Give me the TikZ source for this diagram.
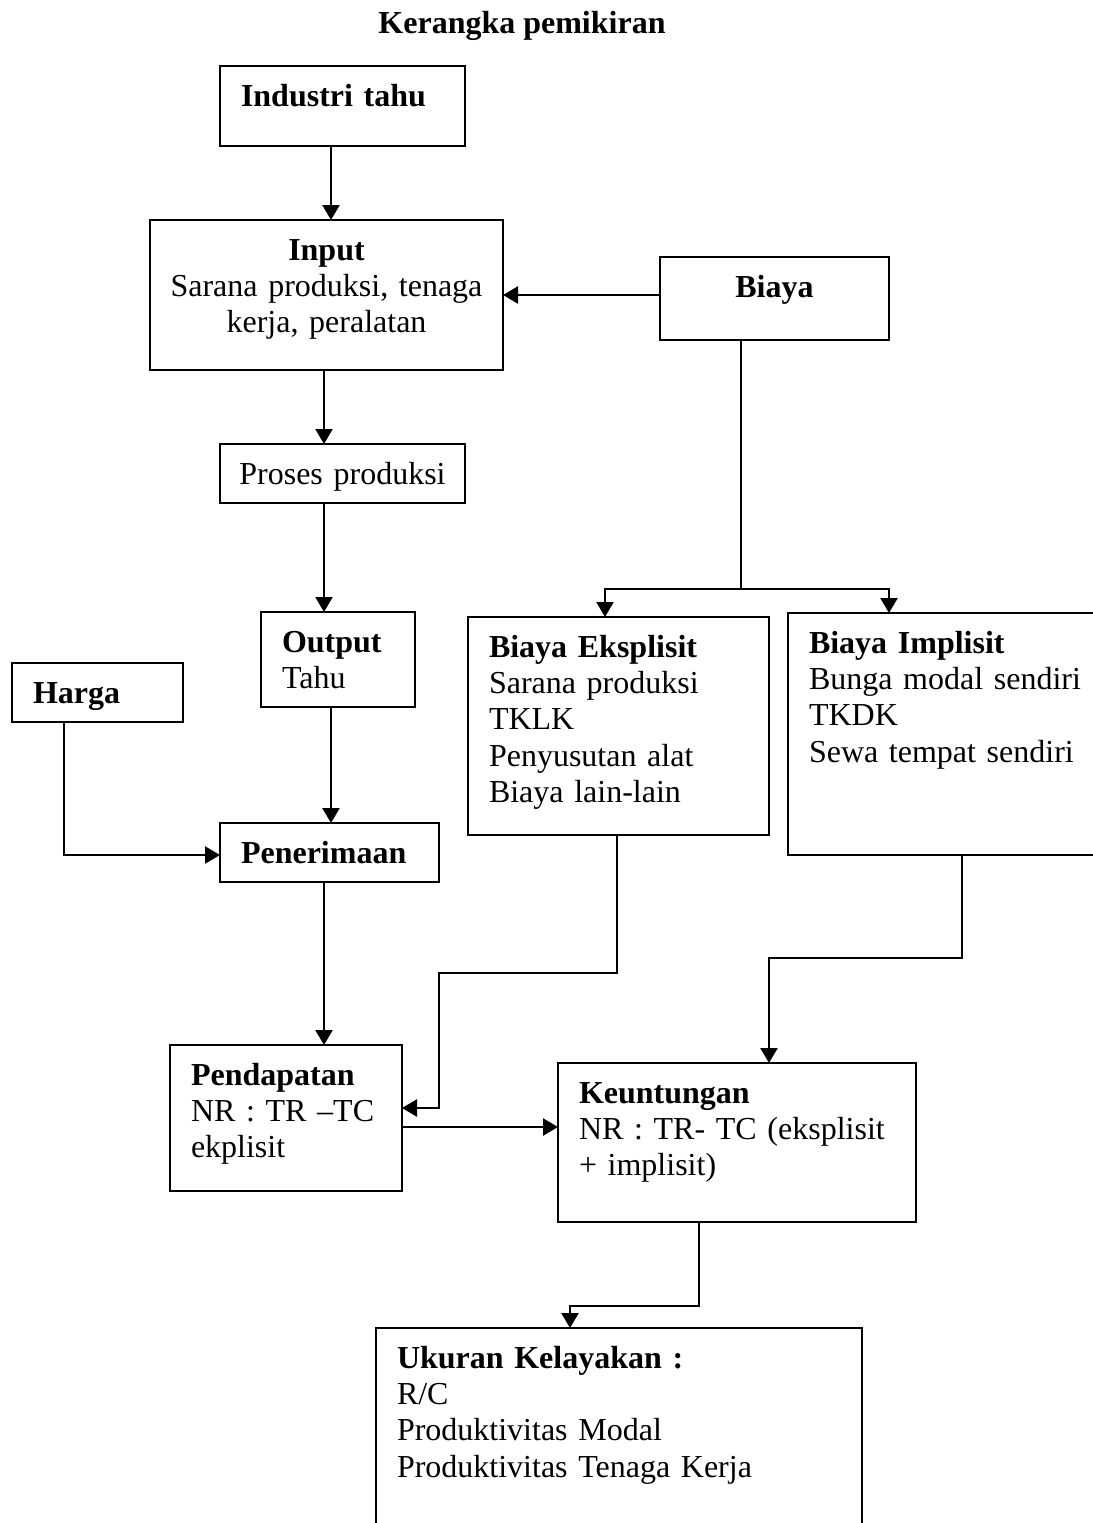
\documentclass[tikz,border=0pt]{standalone}
\usepackage{fontspec}
\setmainfont{Liberation Serif}
\usetikzlibrary{arrows.meta}

\begin{document}
\begin{tikzpicture}[x=0.5pt,y=-0.5pt,
  kotak/.style={draw=black,line width=1pt,anchor=north west,outer sep=0pt,
    inner xsep=10.5pt,inner ysep=0pt,text height=20pt,align=left,
    font=\fontsize{16}{18.2}\selectfont},
  kotaktengah/.style={kotak,inner xsep=4pt,align=center},
  garis/.style={line width=1.2pt},
  panah/.style={garis,-{Triangle[length=7.5pt,width=8.5pt]}}]
  \useasboundingbox (0,0) rectangle (1093,1523);
  \clip (0,0) rectangle (1093,1523);

  \node[font=\fontsize{16}{18.2}\selectfont\bfseries,anchor=base] (judul) at (522,33) {Kerangka pemikiran};

  \node[kotak,text width=101.5pt,text depth=20pt] (industri) at (220,66) {\textbf{Industri tahu}};
  \node[kotaktengah,text width=168.5pt,text depth=55pt] (input) at (150,220) {\textbf{Input}\\Sarana produksi, tenaga\\kerja, peralatan};
  \node[kotaktengah,text width=114.5pt,text depth=9.5pt] (proses) at (220,444) {Proses produksi};
  \node[kotaktengah,text width=106.5pt,text depth=21.5pt] (biaya) at (660,257) {\textbf{Biaya}};
  \node[kotak,text width=56pt,text depth=27.5pt] (output) at (261,612) {\textbf{Output}\\Tahu};
  \node[kotak,text width=64.5pt,text depth=9.5pt] (harga) at (12,663) {\textbf{Harga}};
  \node[kotak,text width=88.5pt,text depth=9.5pt] (penerimaan) at (220,823) {\textbf{Penerimaan}};
  \node[kotak,text width=129.5pt,text depth=89pt] (eksplisit) at (468,617) {\textbf{Biaya Eksplisit}\\Sarana produksi\\TKLK\\Penyusutan alat\\Biaya lain-lain};
  \node[kotak,text width=144pt,text depth=101pt] (implisit) at (788,613) {\textbf{Biaya Implisit}\\Bunga modal sendiri\\TKDK\\Sewa tempat sendiri};
  \node[kotak,text width=95pt,text depth=53pt] (pendapatan) at (170,1045) {\textbf{Pendapatan}\\NR : TR –TC\\ekplisit};
  \node[kotak,text width=158pt,text depth=59.5pt] (keuntungan) at (558,1063) {\textbf{Keuntungan}\\NR : TR- TC (eksplisit\\+ implisit)};
  \node[kotak,text width=222pt,text depth=100pt] (ukuran) at (376,1328) {\textbf{Ukuran Kelayakan :}\\R/C\\Produktivitas Modal\\Produktivitas Tenaga Kerja};

  \coordinate (cabang) at (741,589);
  \coordinate (belok1) at (439,973);
  \coordinate (belok2) at (769,958);
  \coordinate (belok3) at (570,1306);

  \draw[panah] ([xshift=-5.75pt]industri.south) -- ([xshift=-5.75pt]industri.south |- input.north);
  \draw[panah] ([yshift=1.75pt]biaya.west) -- ([yshift=1.75pt]biaya.west -| input.east);
  \draw[panah] ([xshift=-1.25pt]input.south) -- ([xshift=-1.25pt]input.south |- proses.north);
  \draw[panah] ([xshift=-9.25pt]proses.south) -- ([xshift=-9.25pt]proses.south |- output.north);
  \draw[panah] ([xshift=-3.5pt]output.south) -- ([xshift=-3.5pt]output.south |- penerimaan.north);
  \draw[panah] ([xshift=-16.75pt]harga.south) |- ([yshift=-1.25pt]penerimaan.west);
  \draw[panah] ([xshift=-2.75pt]penerimaan.south) -- ([xshift=-2.75pt]penerimaan.south |- pendapatan.north);
  \draw[garis] ([xshift=-16.75pt]biaya.south) -- (cabang);
  \draw[panah] (cabang) -| ([xshift=-6.75pt]eksplisit.north);
  \draw[panah] (cabang) -| ([xshift=50.5pt]implisit.north west);
  \draw[panah] ([xshift=-0.75pt]eksplisit.south) |- (belok1) |- ([yshift=5pt]pendapatan.east);
  \draw[panah] ([xshift=87pt]implisit.south west) |- (belok2) -- (belok2 |- keuntungan.north);
  \draw[panah] ([yshift=-4.5pt]pendapatan.east) -- ([yshift=-4.5pt]pendapatan.east -| keuntungan.west);
  \draw[panah] ([xshift=-19pt]keuntungan.south) |- (belok3) -- (belok3 |- ukuran.north);
\end{tikzpicture}
\end{document}
